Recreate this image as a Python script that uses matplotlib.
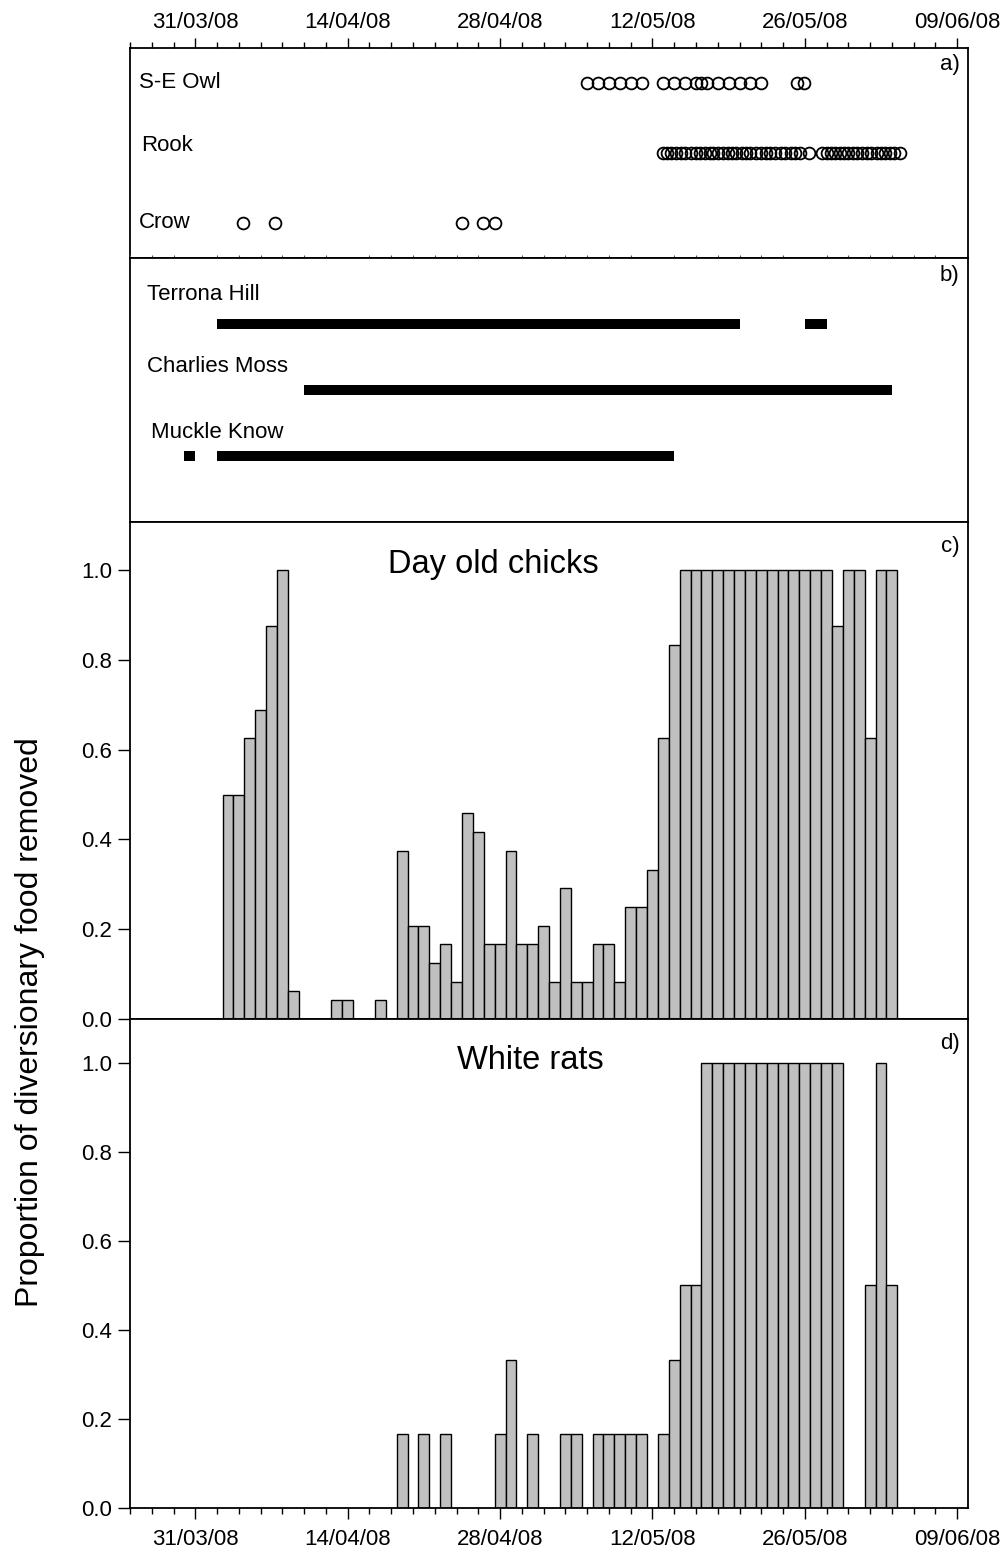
import numpy as np
import matplotlib
matplotlib.use("Agg")
import matplotlib.pyplot as plt
import matplotlib.dates as mdates
from matplotlib.ticker import FixedLocator, MultipleLocator, NullFormatter, FormatStrFormatter

plt.rcParams['font.family'] = ['Liberation Sans', 'DejaVu Sans']

# day offsets are counted from 31/03/08
base = mdates.date2num(np.datetime64('2008-03-31'))
tick_dates = ['2008-03-31', '2008-04-14', '2008-04-28', '2008-05-12', '2008-05-26', '2008-06-09']

# a) predator sightings (day offsets)
owl_days = [36, 37, 38, 39, 40, 41, 43, 44, 45, 46, 46.5, 47, 48, 49, 50, 51, 52, 55.3, 55.9]
rook_days = [43.0, 43.3, 43.7, 44.2, 44.6, 45.0, 45.5, 46.0, 46.4, 46.8, 47.3, 47.6, 48.0,
             48.5, 48.9, 49.3, 49.7, 50.2, 50.6, 51.0, 51.5, 52.0, 52.4, 52.8, 53.3, 53.8,
             54.2, 54.7, 55.1, 55.6, 56.4, 57.6, 58.0, 58.4, 58.8, 59.2, 59.6, 60.0, 60.4,
             60.8, 61.3, 61.7, 62.1, 62.6, 63.0, 63.4, 63.8, 64.2, 64.7]
crow_days = [4.4, 7.3, 24.5, 26.4, 27.5]
species = ['S-E Owl', 'Rook', 'Crow']

# b) periods of feeding at each site: (start day, length in days)
sites = ['Terrona Hill', 'Charlies Moss', 'Muckle Know']
terrona = [(2, 48), (56, 2)]
charlies = [(10, 54)]
muckle = [(-1, 1), (2, 42)]

# c) day old chicks, proportion removed per day
chick_days = [3, 4, 5, 6, 7, 8, 9, 13, 14, 17, 19, 20, 21, 22, 23, 24, 25, 26, 27, 28, 29, 30,
              31, 32, 33, 34, 35, 36, 37, 38, 39, 40, 41, 42, 43, 44, 45, 46, 47, 48, 49, 50,
              51, 52, 53, 54, 55, 56, 57, 58, 59, 60, 61, 62, 63, 64]
chick_prop = [0.5, 0.5, 0.625, 0.6875, 0.875, 1.0, 0.0625, 0.042, 0.042, 0.042, 0.375, 0.208,
              0.208, 0.125, 0.167, 0.083, 0.458, 0.417, 0.167, 0.167, 0.375, 0.167, 0.167,
              0.208, 0.083, 0.292, 0.083, 0.083, 0.167, 0.167, 0.083, 0.25, 0.25, 0.333,
              0.625, 0.833, 1, 1, 1, 1, 1, 1, 1, 1, 1, 1, 1, 1, 1, 1, 0.875, 1, 1, 0.625, 1, 1]

# d) white rats
rat_days = [19, 21, 23, 28, 29, 31, 34, 35, 37, 38, 39, 40, 41, 43, 44, 45, 46, 47, 48, 49,
            50, 51, 52, 53, 54, 55, 56, 57, 58, 59, 62, 63, 64]
rat_prop = [0.167, 0.167, 0.167, 0.167, 0.333, 0.167, 0.167, 0.167, 0.167, 0.167, 0.167,
            0.167, 0.167, 0.167, 0.333, 0.5, 0.5, 1, 1, 1, 1, 1, 1, 1, 1, 1, 1, 1, 1, 1,
            0.5, 1, 0.5]

FS = 16
xlim = (base - 6, base + 71)

fig = plt.figure(figsize=(10.01, 15.57), dpi=100)
L, W = 0.1299, 0.8372
ax_a = fig.add_axes((L, 0.8343, W, 0.1349))
ax_b = fig.add_axes((L, 0.6647, W, 0.1696))
ax_c = fig.add_axes((L, 0.3455, W, 0.3192))
ax_d = fig.add_axes((L, 0.0315, W, 0.3141))

for ax in (ax_a, ax_b, ax_c, ax_d):
    ax.set_xlim(*xlim)
    ax.xaxis.set_major_locator(FixedLocator(mdates.datestr2num(tick_dates)))
    ax.xaxis.set_minor_locator(MultipleLocator(2, offset=1))
    ax.xaxis.set_major_formatter(mdates.DateFormatter('%d/%m/%y'))
    for s in ax.spines.values():
        s.set_linewidth(1.3)

# panel a
circ = dict(marker='o', ls='none', mfc='none', mec='black', ms=8.5, mew=1.3)
for yv, days in zip([3, 2, 1], [owl_days, rook_days, crow_days]):
    ax_a.plot(base + np.array(days), np.full(len(days), yv), **circ)
ax_a.set_ylim(0.5, 3.5)
ax_a.set_yticks([])
for yv, name in zip([3.0, 2.1, 1.0], species):
    ax_a.text(base - 5.2 + (0.2 if name == 'Rook' else 0), yv, name, fontsize=FS, va='center')
ax_a.xaxis.tick_top()
ax_a.tick_params(axis='x', which='major', direction='out', length=7, width=1, labelsize=FS, pad=4)
ax_a.tick_params(axis='x', which='minor', direction='out', length=4, width=1)
ax_a.text(0.99, 0.92, 'a)', transform=ax_a.transAxes, ha='right', va='center', fontsize=FS)

# panel b
for yv, spans in zip([3, 2, 1], [terrona, charlies, muckle]):
    ax_b.broken_barh([(base + s, w) for s, w in spans], (yv - 0.07, 0.14), facecolors='black')
for yv, name, dx in zip([3.44, 2.36, 1.35], sites, [0, 0, 0.3]):
    ax_b.text(base - 4.4 + dx, yv, name, fontsize=FS, va='center')
ax_b.set_ylim(0, 4)
ax_b.set_yticks([])
ax_b.tick_params(axis='x', which='both', bottom=False, labelbottom=False)
ax_b.tick_params(axis='x', which='major', top=False)
ax_b.tick_params(axis='x', which='minor', top=True, direction='out', length=2.5, width=0.8,
                 color='#555555')
ax_b.text(0.99, 0.935, 'b)', transform=ax_b.transAxes, ha='right', va='center', fontsize=FS)

# panels c and d
bar_kw = dict(width=1.0, color='#c0c0c0', edgecolor='black', linewidth=1.0, align='center')
ax_c.bar(base + np.array(chick_days), chick_prop, **bar_kw)
ax_d.bar(base + np.array(rat_days), rat_prop, **bar_kw)
for ax, title, tx, lab, top in [(ax_c, 'Day old chicks', 0.434, 'c)', 1.107),
                                (ax_d, 'White rats', 0.478, 'd)', 1.098)]:
    ax.set_ylim(0, top)
    ax.set_yticks(np.arange(0, 1.01, 0.2))
    ax.yaxis.set_major_formatter(FormatStrFormatter('%.1f'))
    ax.tick_params(axis='y', direction='out', length=9, width=1, labelsize=FS, pad=4)
    ax.tick_params(axis='x', which='major', direction='out', length=8, width=1, labelsize=FS, pad=7)
    ax.tick_params(axis='x', which='minor', direction='out', length=4, width=1)
    ax.text(tx, 0.915, title, transform=ax.transAxes, ha='center', va='center', fontsize=23.5)
    ax.text(0.99, 0.95, lab, transform=ax.transAxes, ha='right', va='center', fontsize=FS)
ax_c.xaxis.set_major_formatter(NullFormatter())

fig.text(0.03, 1 - 1022 / 1557, 'Proportion of diversionary food removed', rotation=90,
         ha='center', va='center', fontsize=23)

fig.savefig('out.png', dpi=100, facecolor='white')
